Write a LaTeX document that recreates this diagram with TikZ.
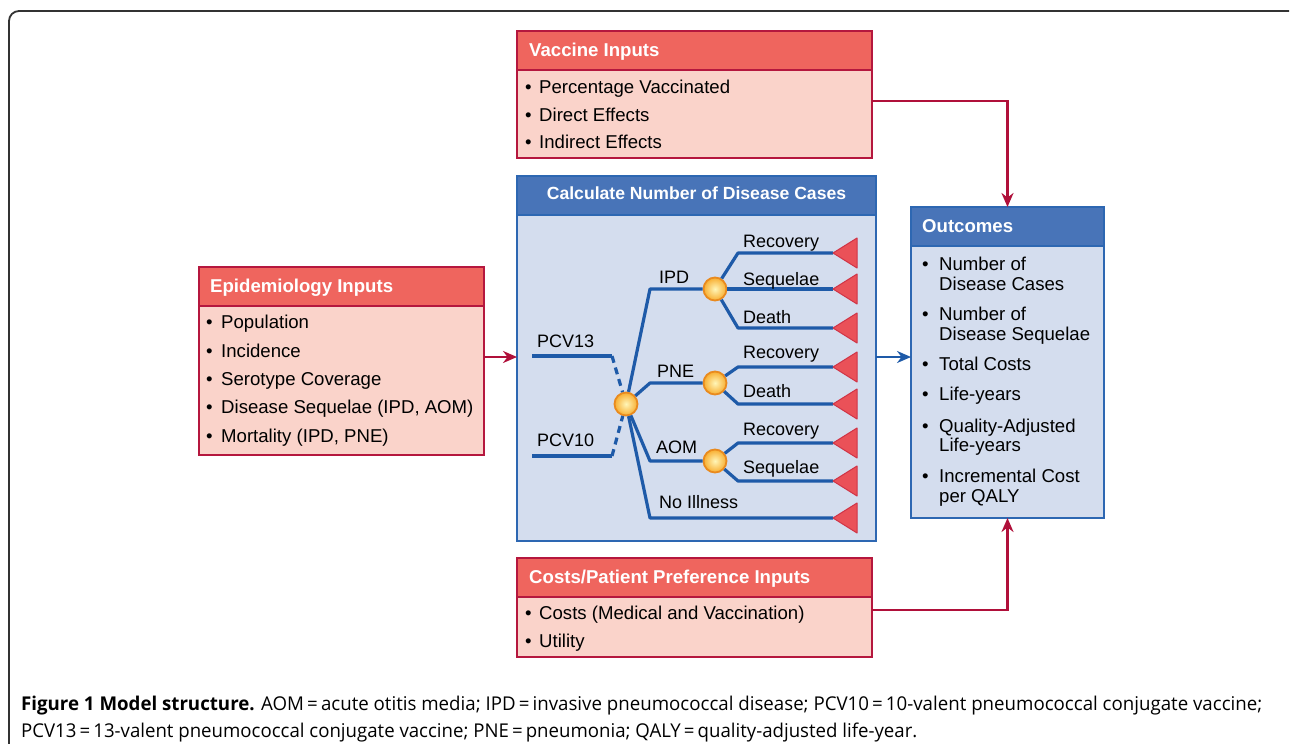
\documentclass[tikz,border=0pt]{standalone}
\usepackage{fontspec}
\usepackage{graphicx}
\setmainfont{Liberation Sans}
\newfontfamily\capfont{Open Sans}
\usetikzlibrary{arrows.meta}
\definecolor{redhead}{HTML}{EF655E}
\definecolor{redbody}{HTML}{FAD3CA}
\definecolor{redline}{HTML}{B5173E}
\definecolor{arrowred}{HTML}{B0103A}
\definecolor{bluehead}{HTML}{4874B8}
\definecolor{bluebody}{HTML}{D4DDEE}
\definecolor{blueline}{HTML}{2D67B2}
\definecolor{treeblue}{HTML}{1E5AA8}
\definecolor{trired}{HTML}{EA5158}
\definecolor{triedge}{HTML}{D03446}
\definecolor{orangeedge}{HTML}{E98A1E}
\definecolor{ballin}{HTML}{FFF6B8}
\definecolor{ballout}{HTML}{F8AE30}
\definecolor{framegray}{HTML}{333333}
\newcommand\bul[1]{\makebox[#1pt][l]{\textbullet}}
\newcommand\panel[8]{%
  \node[draw=#8, fill=#7, line width=1.5pt, inner sep=0pt, outer sep=0pt, anchor=north west,
        minimum width=#4pt, minimum height=#5pt] (#1) at (#2,#3) {};
  \fill[#6] ([shift={(0.75pt,-0.75pt)}]#1.north west) rectangle ([shift={(-0.75pt,-39pt)}]#1.north east);
  \draw[#8, line width=1.5pt] ([yshift=-39pt]#1.north west) -- ([yshift=-39pt]#1.north east);
}
\begin{document}
\begin{tikzpicture}[x=1pt,y=-1pt,
  head/.style={text=white, font=\fontsize{18.6}{22}\selectfont\bfseries, inner sep=0pt, anchor=base west},
  item/.style={font=\fontsize{18.6}{22}\selectfont, inner sep=0pt, anchor=base west},
  lbl/.style={font=\fontsize{18}{22}\selectfont, inner sep=0pt, anchor=base west},
  treeline/.style={draw=treeblue, line width=3.2pt, line join=round},
  tri/.style={fill=trired, draw=triedge, line width=1pt, line join=round},
  chance/.style={circle, draw=orangeedge, line width=1.8pt, minimum size=23pt, inner sep=0pt,
                 inner color=ballin, outer color=ballout},
  redarrow/.style={draw=arrowred, line width=2.5pt, -{Stealth[length=14pt,width=12pt]}},
  bluearrow/.style={draw=treeblue, line width=2.5pt, -{Stealth[length=14pt,width=12pt]}}]
\useasboundingbox (0,0) rectangle (1290,744);
\fill[white] (0,0) rectangle (1290,744);
% outer frame
\draw[framegray, line width=1.8pt, rounded corners=10pt] (9,744) -- (9,11) -- (1289,11);

% panels
\panel{vac}{517}{31}{355}{127}{redhead}{redbody}{redline}
\panel{calc}{517}{176}{359}{365}{bluehead}{bluebody}{blueline}
\panel{epi}{199}{267}{285}{188}{redhead}{redbody}{redline}
\panel{out}{911}{207}{193}{311}{bluehead}{bluebody}{blueline}
\panel{cost}{517}{558}{355}{99}{redhead}{redbody}{redline}

% vaccine inputs
\node[head] (vach) at (529,56) {Vaccine Inputs};
\node[item] (v1) at (525,93) {\bul{14}Percentage Vaccinated};
\node[item] (v2) at (525,121) {\bul{14}Direct Effects};
\node[item] (v3) at (525,148) {\bul{14}Indirect Effects};

% epidemiology inputs
\node[head] (epih) at (210,292) {Epidemiology Inputs};
\node[item] (e1) at (206,328) {\bul{15}Population};
\node[item] (e2) at (206,357) {\bul{15}Incidence};
\node[item] (e3) at (206,385) {\bul{15}Serotype Coverage};
\node[item] (e4) at (206,413) {\bul{15}Disease Sequelae (IPD, AOM)};
\node[item] (e5) at (206,442) {\bul{15}Mortality (IPD, PNE)};

% costs
\node[head] (costh) at (529,583) {Costs/Patient Preference Inputs};
\node[item] (k1) at (525,619) {\bul{14}Costs (Medical and Vaccination)};
\node[item] (k2) at (525,647) {\bul{14}Utility};

% outcomes
\node[head] (outh) at (922,232) {Outcomes};
\node[item] (o1) at (922,270) {\bul{17}Number of};
\node[item] (o1b) at (939,290) {Disease Cases};
\node[item] (o2) at (922,320) {\bul{17}Number of};
\node[item] (o2b) at (939,340) {Disease Sequelae};
\node[item] (o3) at (922,370) {\bul{17}Total Costs};
\node[item] (o4) at (922,400) {\bul{17}Life-years};
\node[item] (o5) at (922,432) {\bul{17}Quality-Adjusted};
\node[item] (o5b) at (939,451) {Life-years};
\node[item] (o6) at (922,482) {\bul{17}Incremental Cost};
\node[item] (o6b) at (939,502) {per QALY};

% calc header
\node[head, anchor=base, font=\fontsize{17.6}{22}\selectfont\bfseries] (calch) at (696.5,199) {Calculate Number of Disease Cases};

% tree coordinates
\node[chance] (c0) at (626,404) {};
\node[chance] (n1) at (715,289) {};
\node[chance] (n2) at (715,383) {};
\node[chance] (n3) at (715,461) {};
\coordinate (p13a) at (532,356); \coordinate (p13b) at (612,356);
\coordinate (p10a) at (532,456); \coordinate (p10b) at (612,456);
\coordinate (kipd) at (650,289);
\coordinate (kpne) at (650,383);
\coordinate (kaom) at (650,461);
\coordinate (kno) at (650,518);
\coordinate (r1) at (738,253); \coordinate (d1) at (738,328);
\coordinate (r2) at (738,367); \coordinate (d2) at (738,404);
\coordinate (r3) at (738,443); \coordinate (s3) at (738,481);
\coordinate (t1) at (833,253);
\coordinate (t2) at (833,289);
\coordinate (t3) at (833,328);
\coordinate (t4) at (833,367);
\coordinate (t5) at (833,404);
\coordinate (t6) at (833,443);
\coordinate (t7) at (833,481);
\coordinate (t8) at (833,518);

% tree lines
\draw[treeline] (p13a) -- (p13b);
\draw[treeline] (p10a) -- (p10b);
\draw[treeline, dash pattern=on 7pt off 5pt] (p13b) -- (c0);
\draw[treeline, dash pattern=on 7pt off 5pt] (p10b) -- (c0);
\draw[treeline] (c0) -- (kipd) -- (n1);
\draw[treeline] (c0) -- (kpne) -- (n2);
\draw[treeline] (c0) -- (kaom) -- (n3);
\draw[treeline] (c0) -- (kno) -- (t8);
\draw[treeline] (n1) -- (r1) -- (t1);
\draw[treeline] (n1) -- (t2);
\draw[treeline] (n1) -- (d1) -- (t3);
\draw[treeline] (n2) -- (r2) -- (t4);
\draw[treeline] (n2) -- (d2) -- (t5);
\draw[treeline] (n3) -- (r3) -- (t6);
\draw[treeline] (n3) -- (s3) -- (t7);
\foreach \t in {t1,t2,t3,t4,t5,t6,t7,t8}{
  \filldraw[tri] (\t) -- ++(24,-15) -- ++(0,30) -- cycle;
}

% tree labels
\node[lbl] (lp13) at (537,347) {PCV13};
\node[lbl] (lp10) at (537,446) {PCV10};
\node[lbl] (lipd) at (659,283) {IPD};
\node[lbl] (lpne) at (657,377) {PNE};
\node[lbl] (laom) at (656,453) {AOM};
\node[lbl] (lno) at (659,508) {No Illness};
\node[lbl] (lr1) at (743,247) {Recovery};
\node[lbl] (ls1) at (743,285) {Sequelae};
\node[lbl] (ld1) at (743,323) {Death};
\node[lbl] (lr2) at (743,358) {Recovery};
\node[lbl] (ld2) at (743,397) {Death};
\node[lbl] (lr3) at (743,435) {Recovery};
\node[lbl] (ls3) at (743,473) {Sequelae};

% connectors
\draw[redarrow] ([yshift=4pt]epi.east) -- ([yshift=4pt]epi.east -| calc.west);
\draw[bluearrow] ([yshift=1.5pt]calc.east) -- ([yshift=1.5pt]calc.east -| out.west);
\draw[redarrow] ([yshift=-6.5pt]vac.east) -| (out.north);
\draw[redarrow] ([yshift=-2.5pt]cost.east) -| (out.south);

% caption
\node[anchor=base west, inner sep=0pt] (cap1) at (21,710) {\capfont\fontsize{19}{22}\selectfont\resizebox{1241pt}{\height}{\textbf{Figure 1 Model structure.} AOM\,=\,acute otitis media; IPD\,=\,invasive pneumococcal disease; PCV10\,=\,10-valent pneumococcal conjugate vaccine;}};
\node[anchor=base west, inner sep=0pt] (cap2) at (21,737) {\capfont\fontsize{19}{22}\selectfont\resizebox{896pt}{\height}{PCV13\,=\,13-valent pneumococcal conjugate vaccine; PNE\,=\,pneumonia; QALY\,=\,quality-adjusted life-year.}};
\end{tikzpicture}
\end{document}
